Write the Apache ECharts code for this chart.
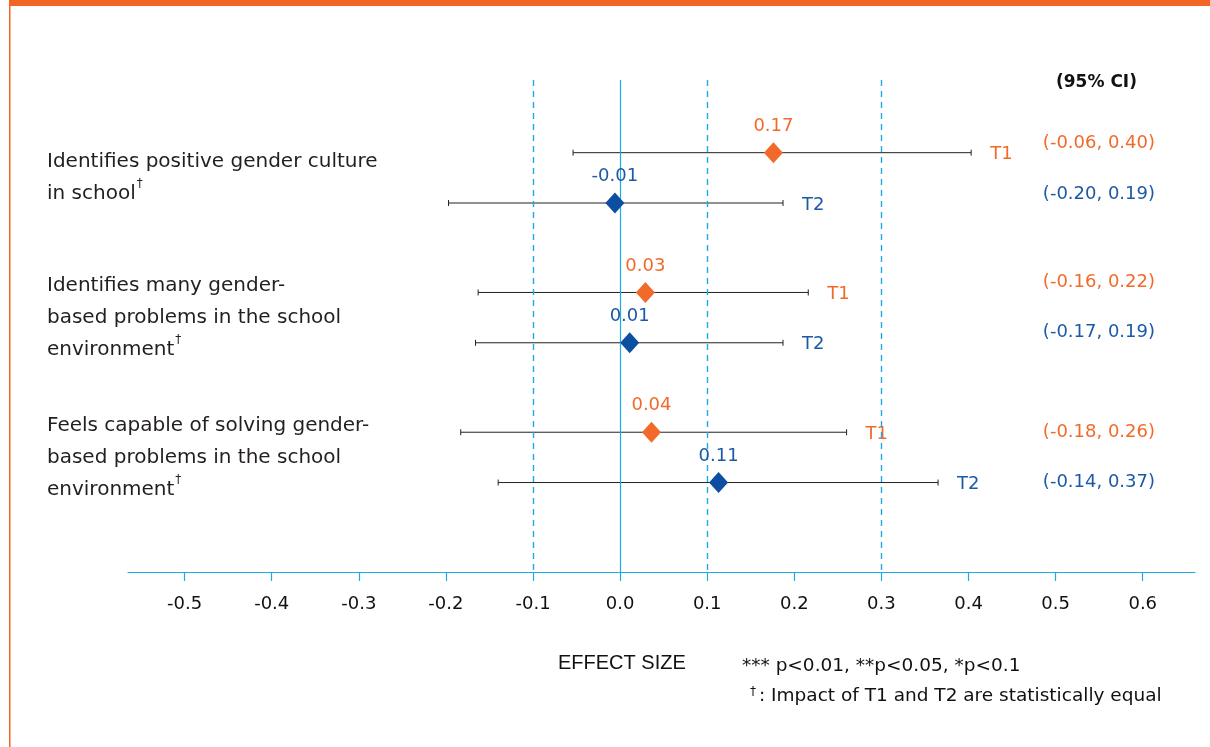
<!DOCTYPE html>
<html>
<head>
<meta charset="UTF-8">
<title>Effect size</title>
<script src="https://cdn.jsdelivr.net/npm/echarts@6/dist/echarts.min.js"></script>
<style>
html,body{margin:0;padding:0;background:#fff;}
#chart{width:1210px;height:747px;}
</style>
</head>
<body>
<div id="chart"></div>
<script type="text/javascript">
// outcomes (left labels), one row each
var groups = [
	['Identifies positive gender culture', 'in school'],
	['Identifies many gender-', 'based problems in the school', 'environment'],
	['Feels capable of solving gender-', 'based problems in the school', 'environment']
];
// T1 estimates and confidence bounds
var t1Est = [0.176, 0.029, 0.036];
var t1Low = [-0.054, -0.163, -0.183];
var t1High = [0.403, 0.216, 0.260];
var t1Text = ['0.17', '0.03', '0.04'];
var t1CI = ['(-0.06, 0.40)', '(-0.16, 0.22)', '(-0.18, 0.26)'];
// T2 estimates and confidence bounds
var t2Est = [-0.006, 0.011, 0.113];
var t2Low = [-0.197, -0.166, -0.140];
var t2High = [0.187, 0.187, 0.365];
var t2Text = ['-0.01', '0.01', '0.11'];
var t2CI = ['(-0.20, 0.19)', '(-0.17, 0.19)', '(-0.14, 0.37)'];
// axis ticks and reference lines
var xTicks = [-0.5, -0.4, -0.3, -0.2, -0.1, 0.0, 0.1, 0.2, 0.3, 0.4, 0.5, 0.6];
var dashLines = [-0.1, 0.1, 0.3];
var solidLines = [0];

var ORANGE = '#f26a2a';
var BLUE = '#0b4ea2';
var BLUE_TXT = '#1c5aa6';
var SKY = '#1fa9e6';
var OFF = 0.18;          // vertical split between T1 and T2 inside one row
var ciNudge = [-9, -10, 0];
var CI_RIGHT = 1155;
var NUM_FONT = '18px "DejaVu Sans"';

function barData(low, high, tag, off){
	var out = [];
	for(var i=0;i<low.length;i++){
		out.push([low[i], high[i], i+off, tag, i]);
	}
	return out;
}
function pointData(est, off){
	var out = [];
	for(var i=0;i<est.length;i++){
		out.push([est[i], i+off]);
	}
	return out;
}

function makeBars(color, ciText){
	return function(params, api){
		var lo = api.coord([api.value(0), api.value(2)]);
		var hi = api.coord([api.value(1), api.value(2)]);
		var idx = api.value(4);
		var y = lo[1];
		return {
			type:'group',
			children:[
				{type:'line', shape:{x1:lo[0],y1:y,x2:hi[0],y2:y}, style:{stroke:'#222',lineWidth:1}},
				{type:'line', shape:{x1:lo[0],y1:y-3,x2:lo[0],y2:y+3}, style:{stroke:'#222',lineWidth:1}},
				{type:'line', shape:{x1:hi[0],y1:y-3,x2:hi[0],y2:y+3}, style:{stroke:'#222',lineWidth:1}},
				{type:'text', x:hi[0]+19, y:y+2, style:{text:api.value(3), fill:color, font:NUM_FONT, textAlign:'left', textVerticalAlign:'middle'}},
				{type:'text', x:CI_RIGHT, y:y+ciNudge[idx], style:{text:ciText[idx], fill:color, font:NUM_FONT, textAlign:'right', textVerticalAlign:'middle'}}
			]
		};
	};
}

var refLineData = dashLines.map(function(v){ return {xAxis:v, lineStyle:{color:SKY, type:[6,5], width:1.4, opacity:1}}; })
	.concat(solidLines.map(function(v){ return {xAxis:v, lineStyle:{color:SKY, type:'solid', width:1.2, opacity:1}}; }));

var mychart = echarts.init(document.getElementById('chart'));
var option = {
	backgroundColor:'#fff',
	animation:false,
	grid:{left:128, right:15, top:80, bottom:175},
	xAxis:{
		type:'value',
		min:-0.565,
		max:0.66,
		axisLine:{show:true, onZero:false, lineStyle:{color:SKY, width:1.2}},
		axisTick:{show:true, customValues:xTicks, length:9, lineStyle:{color:SKY, width:1.2}},
		axisLabel:{customValues:xTicks, margin:23, fontSize:18, color:'#111', fontFamily:'DejaVu Sans',
			formatter:function(v){ return v.toFixed(1); }},
		splitLine:{show:false}
	},
	yAxis:{
		type:'value',
		inverse:true,
		min:-0.7,
		max:2.82,
		axisLine:{show:false},
		axisTick:{show:false},
		splitLine:{show:false},
		axisLabel:{
			customValues:[0,1,2],
			align:'left',
			margin:81,
			fontSize:20,
			lineHeight:32,
			color:'#231f20',
			fontFamily:'DejaVu Sans',
			formatter:function(v){
				var lines = groups[Math.round(v)].slice();
				var last = lines.length-1;
				lines[last] = lines[last] + '{sup|†}';
				return lines.join('\n');
			},
			rich:{
				sup:{fontSize:12, fontFamily:'DejaVu Sans', verticalAlign:'top', lineHeight:22, color:'#231f20', padding:[0,0,8,1]}
			}
		}
	},
	series:[
		{
			type:'custom',
			name:'T1 CI',
			renderItem:makeBars(ORANGE, t1CI),
			data:barData(t1Low, t1High, 'T1', -OFF),
			z:2,
			markLine:{
				silent:true,
				symbol:'none',
				label:{show:false},
				lineStyle:{color:SKY, width:1.2, opacity:1},
				emphasis:{disabled:true},
				data:refLineData
			}
		},
		{
			type:'custom',
			name:'T2 CI',
			renderItem:makeBars(BLUE_TXT, t2CI),
			data:barData(t2Low, t2High, 'T2', OFF),
			z:2
		},
		{
			type:'scatter',
			name:'T1',
			symbol:'diamond',
			symbolSize:[19,21],
			itemStyle:{color:ORANGE, opacity:1},
			data:pointData(t1Est, -OFF),
			z:5,
			label:{show:true, position:'top', distance:7, color:ORANGE, opacity:1, fontSize:18, fontFamily:'DejaVu Sans',
				formatter:function(p){ return t1Text[p.dataIndex]; }}
		},
		{
			type:'scatter',
			name:'T2',
			symbol:'diamond',
			symbolSize:[19,21],
			itemStyle:{color:BLUE, opacity:1},
			data:pointData(t2Est, OFF),
			z:5,
			label:{show:true, position:'top', distance:7, color:BLUE_TXT, opacity:1, fontSize:18, fontFamily:'DejaVu Sans',
				formatter:function(p){ return t2Text[p.dataIndex]; }}
		}
	],
	graphic:[
		{type:'rect', left:9, top:0, shape:{width:1201, height:6}, style:{fill:'#f26522'}},
		{type:'rect', left:9, top:0, shape:{width:1.5, height:747}, style:{fill:'#f26522'}},
		{type:'text', left:1056, top:74, style:{text:'(95% CI)', font:'bold 17px "DejaVu Sans"', fill:'#111'}},
		{type:'text', left:558, top:653, style:{text:'EFFECT SIZE', font:'20px "Liberation Sans"', fill:'#111'}},
		{type:'text', left:742, top:657, style:{text:'*** p<0.01, **p<0.05, *p<0.1', font:'18.5px "DejaVu Sans"', fill:'#111'}},
		{type:'text', left:750, top:686, style:{
			text:'{s|†}: Impact of T1 and T2 are statistically equal',
			font:'18.5px "DejaVu Sans"', fill:'#111',
			rich:{s:{fontSize:12, fontFamily:'DejaVu Sans', verticalAlign:'top', padding:[0,3,8,0]}}
		}}
	]
};
mychart.setOption(option);
</script>
</body>
</html>
